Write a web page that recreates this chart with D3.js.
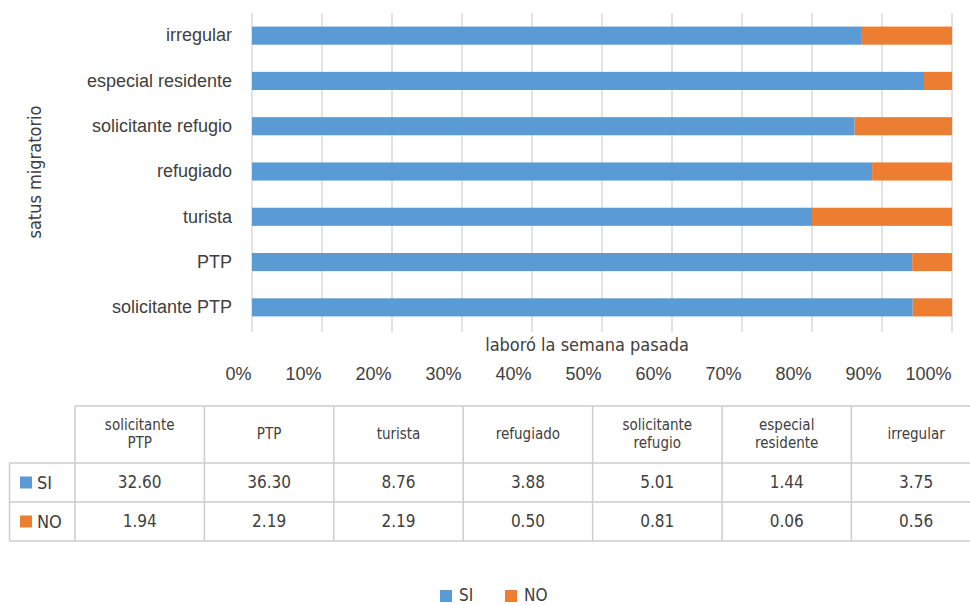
<!DOCTYPE html>
<html>
<head>
<meta charset="utf-8">
<script src="https://cdn.jsdelivr.net/npm/d3@7"></script>
<style>
  body { margin: 0; background: #fff; }
  svg { display: block; font-family: "Liberation Sans Narrow", "DejaVu Sans Condensed", sans-serif; }
</style>
</head>
<body>
<div id="chart"></div>
<script>
// data
const categories = ["solicitante PTP", "PTP", "turista", "refugiado", "solicitante refugio", "especial residente", "irregular"];
const seriesNames = ["SI", "NO"];
const siValues = [32.60, 36.30, 8.76, 3.88, 5.01, 1.44, 3.75];
const noValues = [1.94, 2.19, 2.19, 0.50, 0.81, 0.06, 0.56];
const tickValues = [0, 0.1, 0.2, 0.3, 0.4, 0.5, 0.6, 0.7, 0.8, 0.9, 1];
const colors = ["#5b9bd5", "#ed7d31"];

const width = 970, height = 605;
const textColor = "#404040", gridColor = "#d9d9d9", tableLine = "#cdcdcd";

const svg = d3.select("#chart").append("svg")
    .attr("width", width)
    .attr("height", height);

// Specify the scales.
const x = d3.scaleLinear().domain([0, 1]).range([252, 952]);
const y = d3.scaleBand()
    .domain(categories.slice().reverse())
    .range([13, 330])
    .paddingInner(0.6)
    .paddingOuter(0.3);

// stacked shares
const rows = categories.map((c, i) => ({cat: c, SI: siValues[i], NO: noValues[i]}));
const stack = d3.stack().keys(seriesNames).offset(d3.stackOffsetExpand)(rows);

// gridlines
svg.append("g").selectAll("line")
    .data(tickValues)
    .join("line")
    .attr("x1", d => x(d)).attr("x2", d => x(d))
    .attr("y1", 13).attr("y2", 332)
    .attr("stroke", gridColor)
    .attr("stroke-width", 1.5);

// bars
svg.append("g").selectAll("g")
    .data(stack)
    .join("g")
    .attr("fill", (d, i) => colors[i])
    .selectAll("rect")
    .data(d => d)
    .join("rect")
    .attr("x", d => x(d[0]))
    .attr("y", d => y(d.data.cat))
    .attr("width", d => x(d[1]) - x(d[0]))
    .attr("height", y.bandwidth());

// x axis (labels sit right-aligned against their tick, like the original)
const xAxis = svg.append("g")
    .attr("transform", "translate(0,374)")
    .call(d3.axisBottom(x).tickValues(tickValues).tickFormat(d3.format(".0%")).tickSize(0));
xAxis.select(".domain").remove();
xAxis.selectAll("text")
    .attr("text-anchor", "end")
    .attr("dx", "-1")
    .attr("y", 0)
    .attr("dy", "0.35em")
    .attr("fill", textColor)
    .style("font-size", "18px")
    .style("font-family", null);

svg.append("text")
    .attr("x", 587).attr("y", 345)
    .attr("text-anchor", "middle")
    .attr("dy", "0.35em")
    .attr("fill", textColor)
    .style("font-size", "18px")
    .text("laboró la semana pasada");

// y axis
const yAxis = svg.append("g")
    .attr("transform", "translate(237,0)")
    .call(d3.axisLeft(y).tickSize(0).tickPadding(5));
yAxis.select(".domain").remove();
yAxis.selectAll("text")
    .attr("fill", textColor)
    .style("font-size", "18px")
    .style("font-family", null);

svg.append("text")
    .attr("transform", "translate(35,172) rotate(-90)")
    .attr("text-anchor", "middle")
    .attr("dy", "0.35em")
    .attr("fill", textColor)
    .style("font-size", "18px")
    .text("satus migratorio");

// data table
const col = d3.scaleBand().domain(categories).range([75, 75 + 7 * 129.4]);
const tTop = 406, hdrBottom = 463, rowH = 39;
const tBottom = hdrBottom + rowH * 2;
const table = svg.append("g")
    .attr("stroke", tableLine)
    .attr("stroke-width", 1.5);

table.append("line").attr("x1", 75).attr("x2", width).attr("y1", tTop).attr("y2", tTop);
[0, 1, 2].forEach(i => {
  table.append("line").attr("x1", 9.5).attr("x2", width)
      .attr("y1", hdrBottom + i * rowH).attr("y2", hdrBottom + i * rowH);
});
table.append("line").attr("x1", 9.5).attr("x2", 9.5).attr("y1", hdrBottom).attr("y2", tBottom);
table.selectAll(".vline")
    .data(categories)
    .join("line")
    .attr("x1", d => col(d)).attr("x2", d => col(d))
    .attr("y1", tTop).attr("y2", tBottom);

// header cells, multi-word names wrap onto two lines
const hdr = svg.append("g").selectAll("text")
    .data(categories)
    .join("text")
    .attr("text-anchor", "middle")
    .attr("fill", textColor)
    .style("font-size", "15px");
hdr.each(function (d) {
  const words = d.split(" ");
  const cx = col(d) + col.bandwidth() / 2;
  const cy = (tTop + hdrBottom) / 2 - 0.5;
  d3.select(this).selectAll("tspan")
      .data(words)
      .join("tspan")
      .attr("x", cx)
      .attr("y", (w, i) => cy + (i - (words.length - 1) / 2) * 18)
      .attr("dy", "0.35em")
      .text(w => w);
});

// value rows
const valueRows = [siValues, noValues];
valueRows.forEach((vals, r) => {
  const cy = hdrBottom + rowH * r + rowH / 2;
  svg.append("g").selectAll("text")
      .data(vals)
      .join("text")
      .attr("x", (v, i) => col(categories[i]) + col.bandwidth() / 2)
      .attr("y", cy)
      .attr("dy", "0.35em")
      .attr("text-anchor", "middle")
      .attr("fill", textColor)
      .style("font-size", "17px")
      .text(v => v.toFixed(2));
  svg.append("rect")
      .attr("x", 20).attr("y", cy - 6)
      .attr("width", 12).attr("height", 12)
      .attr("fill", colors[r]);
  svg.append("text")
      .attr("x", 37).attr("y", cy)
      .attr("dy", "0.35em")
      .attr("fill", textColor)
      .style("font-size", "18px")
      .text(seriesNames[r]);
});

// legend
const legend = svg.append("g").selectAll("g")
    .data(seriesNames)
    .join("g")
    .attr("transform", (d, i) => `translate(${440 + i * 65},595)`);
legend.append("rect")
    .attr("x", 0).attr("y", -5)
    .attr("width", 12).attr("height", 12)
    .attr("fill", (d, i) => colors[i]);
legend.append("text")
    .attr("x", 19)
    .attr("dy", "0.35em")
    .attr("fill", textColor)
    .style("font-size", "17px")
    .text(d => d);
</script>
</body>
</html>
